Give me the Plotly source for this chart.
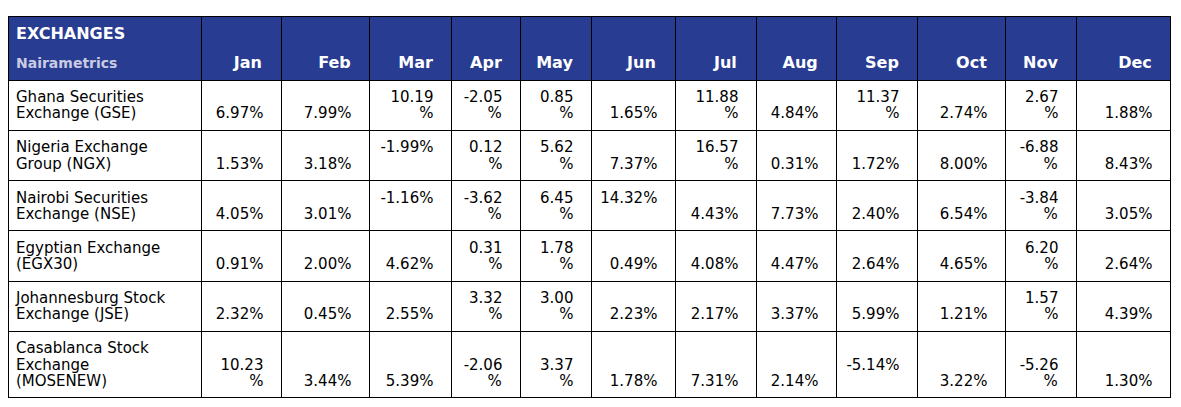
import plotly.graph_objects as go

months = ["Jan", "Feb", "Mar", "Apr", "May", "Jun",
          "Jul", "Aug", "Sep", "Oct", "Nov", "Dec"]

exchanges = ["Ghana Securities\nExchange (GSE)",
             "Nigeria Exchange\nGroup (NGX)",
             "Nairobi Securities\nExchange (NSE)",
             "Egyptian Exchange\n(EGX30)",
             "Johannesburg Stock\nExchange (JSE)",
             "Casablanca Stock\nExchange\n(MOSENEW)"]

# monthly returns, written as they wrap in the source sheet
gse = ["6.97%", "7.99%", "10.19\n%", "-2.05\n%", "0.85\n%", "1.65%",
       "11.88\n%", "4.84%", "11.37\n%", "2.74%", "2.67\n%", "1.88%"]
ngx = ["1.53%", "3.18%", "-1.99%\n", "0.12\n%", "5.62\n%", "7.37%",
       "16.57\n%", "0.31%", "1.72%", "8.00%", "-6.88\n%", "8.43%"]
nse = ["4.05%", "3.01%", "-1.16%\n", "-3.62\n%", "6.45\n%", "14.32%\n",
       "4.43%", "7.73%", "2.40%", "6.54%", "-3.84\n%", "3.05%"]
egx30 = ["0.91%", "2.00%", "4.62%", "0.31\n%", "1.78\n%", "0.49%",
         "4.08%", "4.47%", "2.64%", "4.65%", "6.20\n%", "2.64%"]
jse = ["2.32%", "0.45%", "2.55%", "3.32\n%", "3.00\n%", "2.23%",
       "2.17%", "3.37%", "5.99%", "1.21%", "1.57\n%", "4.39%"]
mosenew = ["10.23\n%", "3.44%", "5.39%", "-2.06\n%", "3.37\n%", "1.78%",
           "7.31%", "2.14%", "-5.14%\n", "3.22%", "-5.26\n%", "1.30%"]

rows = [gse, ngx, nse, egx30, jse, mosenew]

BLUE = "#283c92"
FONT = "DejaVu Sans"
NB = "\u00a0"      # keeps empty lines and right padding alive
FIG = "\u2007"     # digit-wide space
PUN = "\u2008"     # period-wide space
TXT = "<span style='font-size:15px'>%s</span>"


def pad_line(prev, line):
    # plotly wraps lines left-aligned inside the block, so push short
    # lines right by the width difference (DejaVu em widths)
    w = lambda s: sum(0.636 if c.isdigit() else 0.95 if c == "%" else 0.33 for c in s)
    d = w(prev) - w(line)
    if d <= 0:
        return line
    nf = int(d // 0.636)
    npn = int(round((d - nf * 0.636) / 0.318))
    return FIG * nf + PUN * npn + line


def cell(text, n, right=True):
    # excel style: text sits on the bottom of the cell
    lines = text.split("\n")
    lines = [NB] * (n - len(lines)) + lines
    if right:
        top = max(lines, key=len)
        lines = [l if l == NB else pad_line(top, l) + NB + NB for l in lines]
    lines = [TXT % (l if l else NB) for l in lines]
    return "<br>".join(lines)


cols = [[] for _ in range(len(months) + 1)]
for name, vals in zip(exchanges, rows):
    n = max(t.count("\n") + 1 for t in [name] + vals)
    cols[0].append(cell(name, n, right=False))
    for j, v in enumerate(vals):
        cols[j + 1].append(cell(v, n))

header = ["<span style='font-size:16px'><b>EXCHANGES</b></span><br>"
          "<span style='font-size:14px;color:#c8cbe2'><b>Nairametrics</b></span>"]
header += ["<span style='font-size:10px'>%s</span><br>"
           "<span style='font-size:16px'><b>%s</b>%s</span>" % (NB, m, NB + NB) for m in months]

fig = go.Figure(go.Table(
    columnwidth=[193, 80, 88, 82, 69, 71, 84, 81, 80, 81, 88, 71, 94],
    header=dict(values=header, fill_color=BLUE, line=dict(color="black", width=1),
                align=["left"] + ["right"] * 12, height=63,
                font=dict(family=FONT, size=[22] + [27] * 12, color="white")),
    cells=dict(values=cols, fill_color="white", line=dict(color="black", width=1),
               align=["left"] + ["right"] * 12, height=49,
               font=dict(family=FONT, size=12.5, color="black")),
))

# the page body adds 8px on the left and top
fig.update_layout(width=1173, height=399, margin=dict(l=0, r=11, t=8, b=0),
                  paper_bgcolor="white")
fig.write_html("out.html")
